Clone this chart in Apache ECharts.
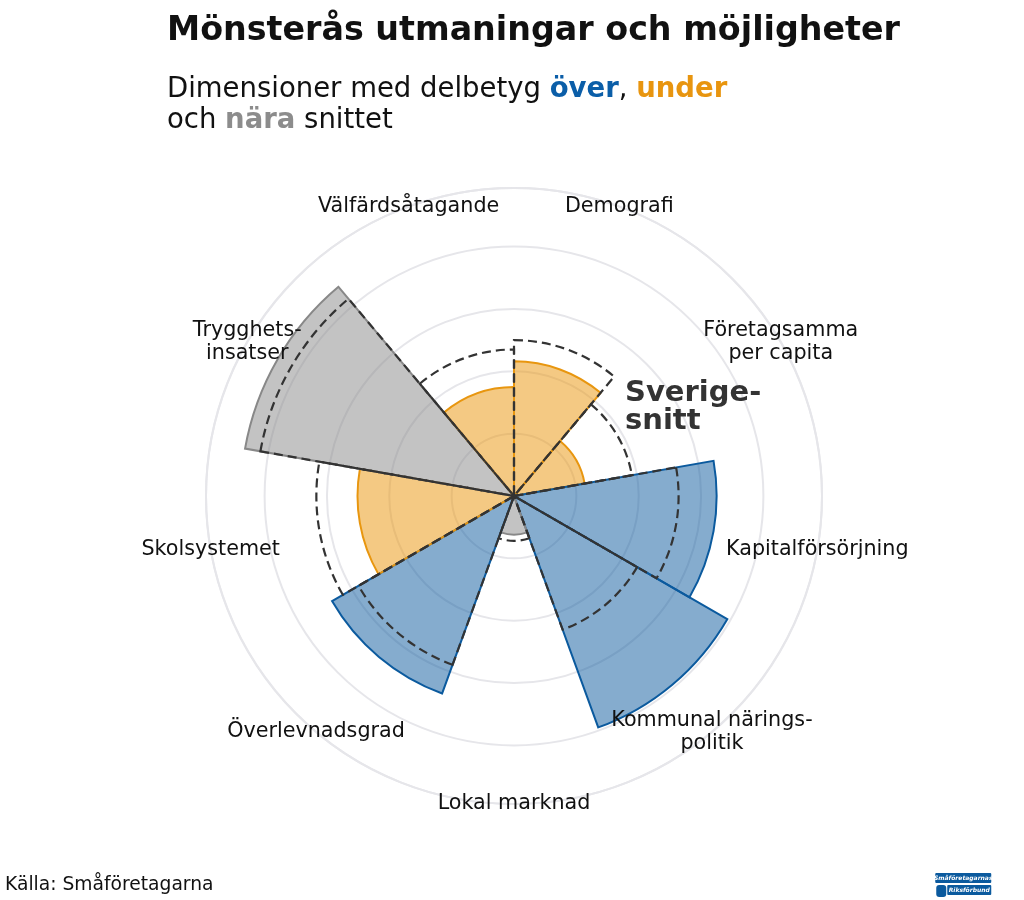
<!DOCTYPE html>
<html>
<head>
<meta charset="utf-8">
<script src="https://cdn.jsdelivr.net/npm/echarts@6/dist/echarts.min.js"></script>
<style>
  html, body { margin: 0; padding: 0; background: #ffffff; }
  #chart { width: 1024px; height: 900px; }
</style>
</head>
<body>
<div id="chart"></div>
<script>
const categories = ['Demografi', 'Företagsamma\nper capita', 'Kapitalförsörjning', 'Kommunal närings-\npolitik', 'Lokal marknad', 'Överlevnadsgrad', 'Skolsystemet', 'Trygghets-\ninsatser', 'Välfärdsåtagande'];
const scores = [2.16, 1.15, 3.25, 3.95, 0.62, 3.37, 2.51, 4.38, 1.75];
const swedenAverage = [2.50, 1.92, 2.64, 2.28, 0.72, 2.88, 3.17, 4.13, 2.35];
const status = ['under', 'under', 'over', 'over', 'near', 'over', 'under', 'near', 'under'];
const radiusMax = 4.94;

const fills = { over: 'rgba(11,90,158,0.5)', under: 'rgba(234,148,8,0.5)', near: 'rgba(136,136,136,0.5)' };
const strokes = { over: '#0B5A9E', under: '#E8960F', near: '#888888' };
const FONT = '"DejaVu Sans", sans-serif';

const chart = echarts.init(document.getElementById('chart'), null, { renderer: 'canvas' });
chart.setOption({
  animation: false,
  backgroundColor: '#ffffff',
  textStyle: { fontFamily: FONT },
  title: [
    {
      text: 'Mönsterås utmaningar och möjligheter',
      left: 162, top: 10,
      textStyle: { fontFamily: FONT, fontSize: 33.3, fontWeight: 'bold', color: '#111111' }
    },
    {
      text: 'Dimensioner med delbetyg {o|över}, {u|under}\noch {n|nära} snittet',
      left: 162, top: 69,
      textStyle: {
        fontFamily: FONT, fontSize: 27.5, fontWeight: 'normal', color: '#111111', lineHeight: 31,
        rich: {
          o: { fontFamily: FONT, fontSize: 27.5, fontWeight: 'bold', color: '#0B5EA8', lineHeight: 31 },
          u: { fontFamily: FONT, fontSize: 27.5, fontWeight: 'bold', color: '#E8950F', lineHeight: 31 },
          n: { fontFamily: FONT, fontSize: 27.5, fontWeight: 'bold', color: '#8C8C8C', lineHeight: 31 }
        }
      }
    }
  ],
  polar: { center: [514, 496], radius: 308 },
  angleAxis: {
    type: 'category',
    data: categories,
    startAngle: 90,
    clockwise: true,
    boundaryGap: true,
    axisLine: { show: true, lineStyle: { color: '#E6E6EA', width: 2 } },
    axisTick: { show: false },
    splitLine: { show: false },
    axisLabel: { show: false }
  },
  radiusAxis: {
    type: 'value',
    min: 0, max: radiusMax, interval: 1,
    axisLine: { show: false },
    axisTick: { show: false },
    axisLabel: { show: false },
    splitLine: { show: true, lineStyle: { color: '#E6E6EA', width: 2 } }
  },
  series: [
    {
      type: 'bar',
      coordinateSystem: 'polar',
      barCategoryGap: '0%',
      barGap: '-100%',
      z: 2,
      data: scores.map((v, i) => ({
        value: v,
        itemStyle: { color: fills[status[i]], borderColor: strokes[status[i]], borderWidth: 2 }
      }))
    },
    {
      type: 'bar',
      coordinateSystem: 'polar',
      barCategoryGap: '0%',
      barGap: '-100%',
      z: 3,
      itemStyle: { color: 'rgba(0,0,0,0)', borderColor: '#333333', borderWidth: 2.2, borderType: [9, 5] },
      data: swedenAverage
    },
    {
      type: 'scatter',
      coordinateSystem: 'polar',
      symbol: 'circle',
      symbolSize: 2,
      clip: false,
      z: 5,
      silent: true,
      itemStyle: { color: 'rgba(255,255,255,0)', opacity: 1 },
      labelLayout: { hideOverlap: false },
      label: {
        show: true, position: 'inside', padding: [5, 0, 0, 0],
        formatter: p => categories[p.dataIndex],
        fontFamily: FONT, fontSize: 20.7, lineHeight: 23, color: '#111111', opacity: 1,
        align: 'center', verticalAlign: 'middle'
      },
      data: categories.map((c, i) => [radiusMax, i])
    }
  ],
  graphic: [
    {
      type: 'text', left: 625, top: 379, z: 10,
      style: { text: 'Sverige-\nsnitt', font: 'bold 29px "DejaVu Sans", sans-serif', fill: '#333333', lineHeight: 28 }
    },
    {
      type: 'text', left: 5, top: 876, z: 10,
      style: { text: 'Källa: Småföretagarna', font: '18.7px "DejaVu Sans", sans-serif', fill: '#111111' }
    },
    {
      type: 'group', left: 934, top: 873, z: 10,
      children: [
        { type: 'rect', shape: { x: 0, y: 0, width: 56, height: 10, r: 1 }, style: { fill: '#0B5A9E' } },
        { type: 'text', style: { x: 28, y: 5, text: 'Småföretagarnas', font: 'bold italic 6px "DejaVu Sans", sans-serif', fill: '#ffffff', align: 'center', verticalAlign: 'middle' } },
        { type: 'rect', shape: { x: 12, y: 12, width: 44, height: 10, r: 1 }, style: { fill: '#0B5A9E' } },
        { type: 'text', style: { x: 34, y: 17, text: 'Riksförbund', font: 'bold italic 6px "DejaVu Sans", sans-serif', fill: '#ffffff', align: 'center', verticalAlign: 'middle' } },
        { type: 'rect', shape: { x: 1, y: 12, width: 10, height: 12, r: 3 }, style: { fill: '#0B5A9E' } }
      ]
    }
  ]
});
</script>
</body>
</html>
